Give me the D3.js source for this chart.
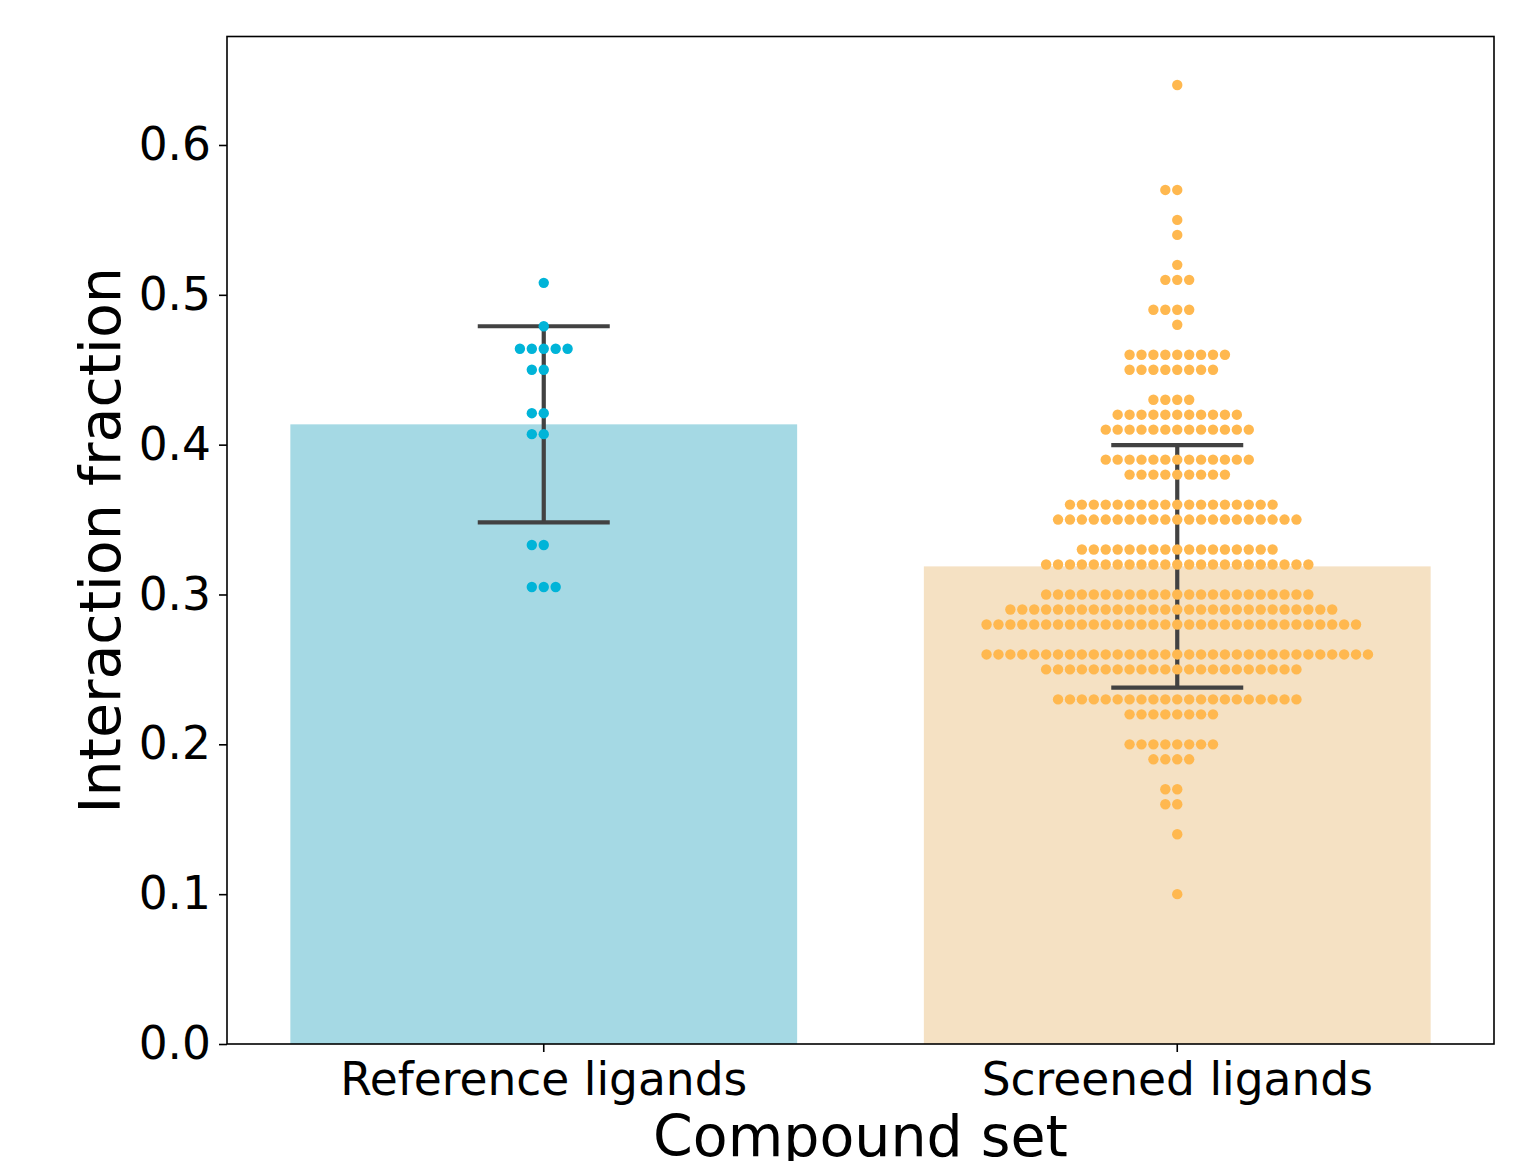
<!DOCTYPE html>
<html>
<head>
<meta charset="utf-8">
<script src="https://cdn.jsdelivr.net/npm/d3@7"></script>
<style>
  html, body { margin: 0; padding: 0; background: #ffffff; }
  svg { display: block; font-family: "DejaVu Sans", sans-serif; }
</style>
</head>
<body>
<svg id="chart" width="1513" height="1161"></svg>
<script>
// ---------------- data ----------------
const categories = ["Reference ligands", "Screened ligands"];
const referenceValues = [
  0.508, 0.479,
  0.464, 0.464, 0.464, 0.464, 0.464,
  0.450, 0.450,
  0.421, 0.421,
  0.407, 0.407,
  0.333, 0.333,
  0.305, 0.305, 0.305
];
const screenedLevels = [0.64, 0.57, 0.55, 0.54, 0.52, 0.51, 0.49, 0.48, 0.46, 0.45, 0.43, 0.42, 0.41, 0.39, 0.38,
                        0.36, 0.35, 0.33, 0.32, 0.30, 0.29, 0.28, 0.26, 0.25, 0.23, 0.22, 0.20, 0.19, 0.17, 0.16, 0.14, 0.10];
const screenedCounts = [1, 2, 1, 1, 1, 3, 4, 1, 9, 8, 4, 11, 13, 13, 9,
                        18, 21, 17, 23, 23, 28, 32, 33, 22, 21, 8, 8, 4, 2, 2, 1, 1];
const yTicks = [0.0, 0.1, 0.2, 0.3, 0.4, 0.5, 0.6];
const yMax = 0.6724;

// ---------------- styles ----------------
const barColors = ["#a5d9e4", "#f5e1c3"];
const dotColors = ["#00b4d8", "#ffb84f"];
const errColor = "#424242";

const screenedValues = [];
screenedLevels.forEach((v, i) => { for (let k = 0; k < screenedCounts[i]; k++) screenedValues.push(v); });
const groups = [referenceValues, screenedValues];

const plot = { left: 227, right: 1494, top: 36.5, bottom: 1044 };

const svg = d3.select("#chart");

const x = d3.scaleBand().domain(categories).range([plot.left, plot.right]).paddingInner(0.2).paddingOuter(0.1);
const y = d3.scaleLinear().domain([0, yMax]).range([plot.bottom, plot.top]);

function stats(v) {
  const m = d3.mean(v);
  const sd = Math.sqrt(d3.mean(v, d => (d - m) * (d - m)));
  return { mean: m, lo: m - sd, hi: m + sd };
}

// bars
categories.forEach((c, i) => {
  const s = stats(groups[i]);
  svg.append("rect")
    .attr("x", x(c)).attr("width", x.bandwidth())
    .attr("y", y(s.mean)).attr("height", y(0) - y(s.mean))
    .attr("fill", barColors[i]);
});

// error bars
const capHalf = 66;
categories.forEach((c, i) => {
  const s = stats(groups[i]);
  const cx = x(c) + x.bandwidth() / 2;
  const g = svg.append("g").attr("stroke", errColor).attr("stroke-width", 4.2).attr("fill", "none");
  g.append("line").attr("x1", cx).attr("x2", cx).attr("y1", y(s.lo)).attr("y2", y(s.hi));
  g.append("line").attr("x1", cx - capHalf).attr("x2", cx + capHalf).attr("y1", y(s.lo)).attr("y2", y(s.lo));
  g.append("line").attr("x1", cx - capHalf).attr("x2", cx + capHalf).attr("y1", y(s.hi)).attr("y2", y(s.hi));
});

// beeswarm (seaborn-like placement)
function swarm(values, cx, d) {
  const pts = values.map(v => ({ v, py: y(v) })).sort((a, b) => a.v - b.v);
  const placed = [];
  pts.forEach(p => {
    const cands = [0];
    placed.forEach(q => {
      const dy = Math.abs(q.py - p.py);
      if (dy < d) {
        const dx = Math.sqrt(d * d - dy * dy);
        cands.push(q.dx - dx, q.dx + dx);
      }
    });
    const ok = cands.filter(c => placed.every(q => {
      const ddx = q.dx - c, ddy = q.py - p.py;
      return ddx * ddx + ddy * ddy >= d * d - 1e-6;
    }));
    ok.sort((a, b) => (Math.abs(a) - Math.abs(b)) || (a - b));
    p.dx = ok[0];
    placed.push(p);
  });
  return placed.map(p => ({ x: cx + p.dx, y: p.py }));
}

categories.forEach((c, i) => {
  const cx = x(c) + x.bandwidth() / 2;
  const pts = swarm(groups[i], cx, 11.92);
  svg.append("g").selectAll("circle").data(pts).join("circle")
    .attr("cx", d => d.x).attr("cy", d => d.y).attr("r", 5.2)
    .attr("fill", dotColors[i]);
});

// frame
svg.append("rect")
  .attr("x", plot.left).attr("y", plot.top)
  .attr("width", plot.right - plot.left).attr("height", plot.bottom - plot.top)
  .attr("fill", "none").attr("stroke", "#000").attr("stroke-width", 1.6);

// y axis
const yAxis = svg.append("g").attr("transform", `translate(${plot.left},0)`)
  .call(d3.axisLeft(y).tickValues(yTicks).tickFormat(d3.format(".1f")).tickSize(8).tickPadding(8));
yAxis.select(".domain").remove();
yAxis.selectAll("line").attr("stroke", "#000").attr("stroke-width", 1.6);
yAxis.selectAll("text").attr("font-size", 45.5).attr("fill", "#000").attr("font-family", "DejaVu Sans");

// x axis
const xAxis = svg.append("g").attr("transform", `translate(0,${plot.bottom})`)
  .call(d3.axisBottom(x).tickSize(8).tickPadding(11));
xAxis.select(".domain").remove();
xAxis.selectAll("line").attr("stroke", "#000").attr("stroke-width", 1.6);
xAxis.selectAll("text").attr("font-size", 45.5).attr("fill", "#000").attr("font-family", "DejaVu Sans");

// axis titles
svg.append("text")
  .attr("x", (plot.left + plot.right) / 2).attr("y", 1156)
  .attr("text-anchor", "middle").attr("font-size", 57).attr("fill", "#000")
  .text("Compound set");

svg.append("text")
  .attr("transform", `translate(120,${(plot.top + plot.bottom) / 2}) rotate(-90)`)
  .attr("text-anchor", "middle").attr("font-size", 57).attr("fill", "#000")
  .text("Interaction fraction");
</script>
</body>
</html>
